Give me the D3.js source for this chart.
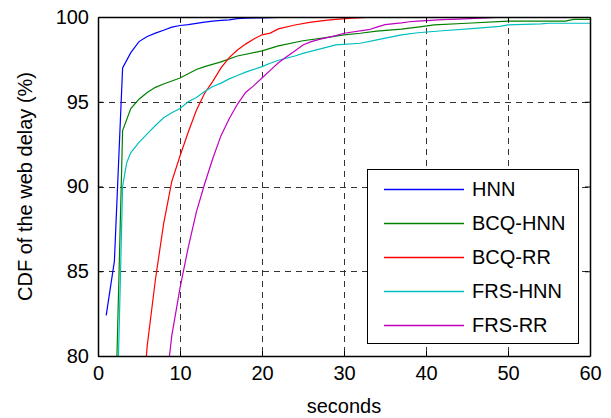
<!DOCTYPE html>
<meta charset="utf-8">
<head>
<style>
body { margin: 0; background: #fff; }
text { font-family: "Liberation Sans", Arial, sans-serif; font-size: 20px; fill: #000; }
.grid line { stroke: #333; stroke-width: 1; stroke-dasharray: 6,5; }
</style>
</head>
<body>
<div id="my_dataviz"></div>
<script src="https://d3js.org/d3.v7.min.js"></script>
<script>

// series (seconds, CDF %)
var hnnX = [1, 2, 3, 4, 5, 6, 7, 8, 9, 10, 11, 12, 13, 14, 15, 16, 17, 18, 20, 22, 23, 60];
var hnnY = [82.4, 85.6, 97.0, 97.9, 98.55, 98.85, 99.05, 99.22, 99.4, 99.5, 99.55, 99.62, 99.7, 99.76, 99.8, 99.83, 99.9, 99.93, 99.95, 99.98, 100, 100];

var bcqHnnX = [2, 3, 4, 5, 6, 7, 8, 10, 12, 13, 15, 17, 20, 22, 25, 28, 30, 32, 34, 37, 39, 41, 45, 50, 57, 58, 60];
var bcqHnnY = [74, 93.3, 94.6, 95.15, 95.55, 95.85, 96.05, 96.4, 96.9, 97.07, 97.35, 97.7, 98.0, 98.3, 98.6, 98.8, 98.94, 99.04, 99.17, 99.29, 99.4, 99.53, 99.63, 99.76, 99.76, 99.86, 99.86];

var bcqRrX = [5, 6, 7, 8, 9, 10, 11, 12, 13, 14, 15, 16, 17, 18, 19, 20, 21, 22, 24, 26, 28, 29, 31, 34, 60];
var bcqRrY = [74.6, 80.6, 84.5, 87.8, 90.3, 91.8, 93.2, 94.5, 95.5, 96.2, 97.0, 97.6, 98.05, 98.4, 98.7, 98.95, 99.05, 99.3, 99.53, 99.7, 99.82, 99.86, 99.93, 100, 100];

var frsHnnX = [2, 3, 3.5, 4, 5, 6, 7, 8, 9, 10, 11, 12, 13, 14, 15, 16, 17, 18, 20, 21, 22, 24, 25, 27, 29, 32, 34, 37, 39, 42, 46, 49, 50, 54, 55, 60];
var frsHnnY = [70, 90.0, 91.4, 92.0, 92.6, 93.1, 93.6, 94.05, 94.35, 94.6, 95.0, 95.25, 95.6, 95.9, 96.1, 96.35, 96.55, 96.75, 97.07, 97.27, 97.45, 97.7, 97.85, 98.1, 98.35, 98.45, 98.65, 98.94, 99.07, 99.19, 99.33, 99.45, 99.53, 99.6, 99.63, 99.63];

var frsRrX = [8, 9, 10, 11, 12, 13, 14, 15, 16, 17, 18, 19, 20, 21, 22, 23, 24, 25, 26, 27, 29, 30, 33, 34, 35, 37, 38, 39, 42, 44, 50, 60];
var frsRrY = [77, 81.2, 84.0, 86.4, 88.5, 90.15, 91.65, 93.0, 94.0, 94.85, 95.55, 95.95, 96.4, 96.85, 97.3, 97.65, 98.0, 98.35, 98.55, 98.68, 98.9, 99.04, 99.25, 99.4, 99.55, 99.65, 99.72, 99.76, 99.85, 99.88, 100, 100];

var seriesNames = ["HNN", "BCQ-HNN", "BCQ-RR", "FRS-HNN", "FRS-RR"];
var seriesColors = ["#0000ff", "#008000", "#ff0000", "#00bfbf", "#bf00bf"];
var xTicks = [0, 10, 20, 30, 40, 50, 60];
var yTicks = [80, 85, 90, 95, 100];

var series = [
  {name: seriesNames[0], xs: hnnX, ys: hnnY},
  {name: seriesNames[1], xs: bcqHnnX, ys: bcqHnnY},
  {name: seriesNames[2], xs: bcqRrX, ys: bcqRrY},
  {name: seriesNames[3], xs: frsHnnX, ys: frsHnnY},
  {name: seriesNames[4], xs: frsRrX, ys: frsRrY}
];

var margin = {top: 17, right: 21, bottom: 62, left: 98},
    width = 611 - margin.left - margin.right,
    height = 418 - margin.top - margin.bottom;

var svg = d3.select("#my_dataviz")
  .append("svg")
    .attr("width", 611)
    .attr("height", 418)
  .append("g")
    .attr("transform", "translate(" + margin.left + "," + margin.top + ")");

var x = d3.scaleLinear().domain([0, 60]).range([0, width]);
var y = d3.scaleLinear().domain([80, 100]).range([height, 0]);
var color = d3.scaleOrdinal().domain(seriesNames).range(seriesColors);

svg.append("clipPath").attr("id", "clip")
  .append("rect").attr("width", width).attr("height", height);

// dashed grid
var grid = svg.append("g").attr("class", "grid");
grid.selectAll(".gx").data(xTicks.slice(1, -1)).enter().append("line")
  .attr("x1", function(d) { return Math.round(x(d)) + 0.5; })
  .attr("x2", function(d) { return Math.round(x(d)) + 0.5; })
  .attr("y1", 0).attr("y2", height);
grid.selectAll(".gy").data(yTicks.slice(1, -1)).enter().append("line")
  .attr("y1", function(d) { return Math.round(y(d)) + 0.5; })
  .attr("y2", function(d) { return Math.round(y(d)) + 0.5; })
  .attr("x1", 0).attr("x2", width);

// curves
var line = d3.line()
  .x(function(d) { return x(d[0]); })
  .y(function(d) { return y(d[1]); });

svg.append("g").attr("clip-path", "url(#clip)")
  .selectAll("path").data(series).enter().append("path")
    .attr("fill", "none")
    .attr("stroke", function(d) { return color(d.name); })
    .attr("stroke-width", 1.2)
    .attr("d", function(d) { return line(d.xs.map(function(v, i) { return [v, d.ys[i]]; })); });

// axes, ticks inward on all four sides
svg.append("g")
  .attr("transform", "translate(0," + height + ")")
  .call(d3.axisBottom(x).tickValues(xTicks).tickSizeInner(-5).tickSizeOuter(0).tickPadding(10));
svg.append("g")
  .call(d3.axisTop(x).tickValues(xTicks).tickSizeInner(-5).tickSizeOuter(0).tickFormat(""));
svg.append("g")
  .call(d3.axisLeft(y).tickValues(yTicks).tickSizeInner(-5).tickSizeOuter(0).tickPadding(9));
svg.append("g")
  .attr("transform", "translate(" + width + ",0)")
  .call(d3.axisRight(y).tickValues(yTicks).tickSizeInner(-5).tickSizeOuter(0).tickFormat(""));
svg.selectAll(".domain").attr("stroke", "#000").attr("stroke-width", 1.5);
svg.selectAll(".tick line").attr("stroke", "#000");
svg.selectAll(".tick text").style("font-size", "20px").attr("fill", "#000")
  .style("font-family", "'Liberation Sans', Arial, sans-serif");

// axis titles
svg.append("text")
  .attr("x", width / 2)
  .attr("y", height + 57)
  .style("text-anchor", "middle")
  .text("seconds");
svg.append("text")
  .attr("transform", "rotate(-90)")
  .attr("x", -height / 2)
  .attr("y", -66)
  .style("text-anchor", "middle")
  .text("CDF of the web delay (%)");

// legend
var legend = svg.append("g").attr("transform", "translate(" + (367 - margin.left) + "," + (169 - margin.top) + ")");
legend.append("rect")
  .attr("x", 0.5).attr("y", 0.5)
  .attr("width", 211).attr("height", 174)
  .attr("fill", "#fff").attr("stroke", "#000").attr("stroke-width", 1);

var item = legend.selectAll(".legend").data(seriesNames).enter().append("g")
  .attr("class", "legend")
  .attr("transform", function(d, i) { return "translate(0," + (20 + i * 34) + ")"; });
item.append("line")
  .attr("x1", 17).attr("x2", 97).attr("y1", 0.5).attr("y2", 0.5)
  .attr("stroke", function(d) { return color(d); }).attr("stroke-width", 1.5);
item.append("text")
  .attr("x", 105).attr("y", 7)
  .text(function(d) { return d; });

</script>
</body>
